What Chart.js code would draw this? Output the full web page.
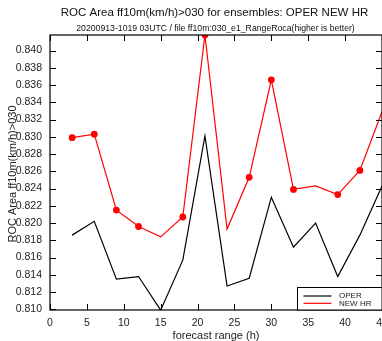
<!DOCTYPE html>
<html><head><meta charset="utf-8">
<script src="https://cdn.jsdelivr.net/npm/chart.js@4.4.1/dist/chart.umd.min.js"></script>
<style>
html,body{margin:0;padding:0;background:#fff;overflow:hidden;width:382px;height:341px}
#wrap{position:absolute;left:0;top:0;width:382px;height:341px}
canvas{display:block}
</style>
</head><body><div id="wrap"><canvas id="c" width="382" height="341"></canvas></div>
<script>
// ---- data ----
const forecastHours = [3, 6, 9, 12, 15, 18, 21, 24, 27, 30, 33, 36, 39, 42, 45];
const operValues    = [0.8186, 0.8202, 0.8135, 0.8138, 0.8099, 0.8157, 0.8301, 0.8127, 0.8136, 0.8230, 0.8172, 0.8200, 0.8138, 0.8186, 0.8243];
const newHrValues   = [0.8299, 0.8303, 0.8215, 0.8196, 0.8184, 0.8207, 0.8418, 0.8193, 0.8253, 0.8366, 0.8239, 0.8243, 0.8233, 0.8261, 0.8329];
const newHrMarked   = [1, 1, 1, 1, 0, 1, 1, 0, 1, 1, 1, 0, 1, 1, 0];
const xTickValues   = [0, 5, 10, 15, 20, 25, 30, 35, 40, 45];
const yTickValues   = [0.810, 0.812, 0.814, 0.816, 0.818, 0.820, 0.822, 0.824, 0.826, 0.828, 0.830, 0.832, 0.834, 0.836, 0.838, 0.840];
const seriesNames   = ['OPER', 'NEW HR'];
const chartTitle    = 'ROC Area ff10m(km/h)>030 for ensembles: OPER NEW HR';
const chartSubtitle = '20200913-1019 03UTC / file ff10m:030_e1_RangeRoca(higher is better)';
const xAxisTitle    = 'forecast range (h)';
const yAxisTitle    = 'ROC Area ff10m(km/h)>030';

const FONT = "'Liberation Sans', Arial, sans-serif";

const framePlugin = {
  id: 'frame',
  afterDatasetsDraw(chart) {
    const {ctx, chartArea: a, scales: {x, y}} = chart;
    ctx.save();
    ctx.strokeStyle = '#000';
    ctx.lineWidth = 1.2;
    ctx.strokeRect(a.left, a.top, a.right - a.left, a.bottom - a.top);
    ctx.lineWidth = 1;
    ctx.beginPath();
    xTickValues.forEach(v => {
      const px = Math.round(x.getPixelForValue(v)) + 0.5;
      ctx.moveTo(px, a.bottom); ctx.lineTo(px, a.bottom - 6);
      ctx.moveTo(px, a.top); ctx.lineTo(px, a.top + 6);
    });
    yTickValues.forEach(v => {
      const py = Math.round(y.getPixelForValue(v)) + 0.5;
      ctx.moveTo(a.left, py); ctx.lineTo(a.left + 6, py);
      ctx.moveTo(a.right, py); ctx.lineTo(a.right - 6, py);
    });
    ctx.stroke();
    ctx.restore();
  },
  afterDraw(chart) {
    const {ctx, chartArea: a} = chart;
    const cx = (a.left + a.right) / 2;
    ctx.save();
    ctx.fillStyle = '#111';
    ctx.textAlign = 'center';
    ctx.textBaseline = 'middle';
    ctx.font = '11.5px ' + FONT;
    ctx.fillText(chartTitle, cx - 1.5, 12.5);
    ctx.font = '8.7px ' + FONT;
    ctx.fillText(chartSubtitle, cx - 0.5, 29);
    ctx.restore();

    ctx.save();
    // y axis title (overlapping tick labels like the reference)
    ctx.translate(13, (a.top + a.bottom) / 2 + 1.5);
    ctx.rotate(-Math.PI / 2);
    ctx.font = '11px ' + FONT;
    ctx.fillStyle = '#222';
    ctx.textAlign = 'center';
    ctx.textBaseline = 'middle';
    ctx.fillText(yAxisTitle, 0, 0);
    ctx.restore();

    // legend box in bottom-right corner
    ctx.save();
    const bx = 297.5, by = a.bottom - 22.5, bw = a.right - bx, bh = a.bottom - by;
    ctx.fillStyle = '#fff';
    ctx.fillRect(bx, by, bw, bh);
    ctx.strokeStyle = '#000';
    ctx.lineWidth = 1;
    ctx.strokeRect(bx, by, bw, bh);
    ctx.font = '8px ' + FONT;
    ctx.textBaseline = 'middle';
    ctx.textAlign = 'left';
    chart.data.datasets.forEach((ds, i) => {
      const ly = by + 8.5 + i * 7.3;
      ctx.strokeStyle = ds.borderColor;
      ctx.lineWidth = 1.2;
      ctx.beginPath();
      ctx.moveTo(303.5, ly); ctx.lineTo(331.5, ly);
      ctx.stroke();
      ctx.fillStyle = '#222';
      ctx.fillText(ds.label, 339, ly);
    });
    ctx.restore();
  }
};

new Chart(document.getElementById('c'), {
  type: 'line',
  data: {
    datasets: [
      {
        label: seriesNames[0],
        data: forecastHours.map((h, i) => ({x: h, y: operValues[i]})),
        borderColor: '#000',
        borderWidth: 1.2,
        pointRadius: 0,
        tension: 0,
        clip: 0
      },
      {
        label: seriesNames[1],
        data: forecastHours.map((h, i) => ({x: h, y: newHrValues[i]})),
        borderColor: '#ff0000',
        backgroundColor: '#ff0000',
        borderWidth: 1.2,
        pointRadius: newHrMarked.map(m => m ? 3.4 : 0),
        pointBorderWidth: 0,
        pointBackgroundColor: '#ff0000',
        tension: 0,
        clip: 0
      }
    ]
  },
  options: {
    responsive: false,
    animation: false,
    devicePixelRatio: 1,
    layout: {autoPadding: false, padding: {left: 0, right: 0, top: 35, bottom: 0}},
    plugins: {
      legend: {display: false},
      tooltip: {enabled: false},
      title: {display: false},
      subtitle: {display: false}
    },
    scales: {
      x: {
        type: 'linear', min: 0, max: 45,
        grid: {display: false, drawTicks: false},
        border: {display: false},
        afterBuildTicks: s => { s.ticks = xTickValues.map(v => ({value: v})); },
        afterFit: s => { s.height = 31; s.paddingLeft = 0; s.paddingRight = 0; },
        ticks: {
          autoSkip: false, maxRotation: 0, padding: 7, color: '#222',
          font: {family: FONT, size: 10.5},
          callback: v => String(v)
        },
        title: {
          display: true, text: xAxisTitle, color: '#222',
          font: {family: FONT, size: 11}, padding: {top: 0, bottom: -1.5}
        }
      },
      y: {
        type: 'linear', min: 0.80992, max: 0.8418,
        grid: {display: false, drawTicks: false},
        border: {display: false},
        afterBuildTicks: s => { s.ticks = yTickValues.map(v => ({value: v})); },
        afterFit: s => { s.width = 50; s.paddingTop = 0; s.paddingBottom = 0; },
        ticks: {
          padding: 8, color: '#222',
          font: {family: FONT, size: 10.5},
          callback: v => Number(v).toFixed(3)
        }
      }
    }
  },
  plugins: [framePlugin]
});
</script>
</body></html>
